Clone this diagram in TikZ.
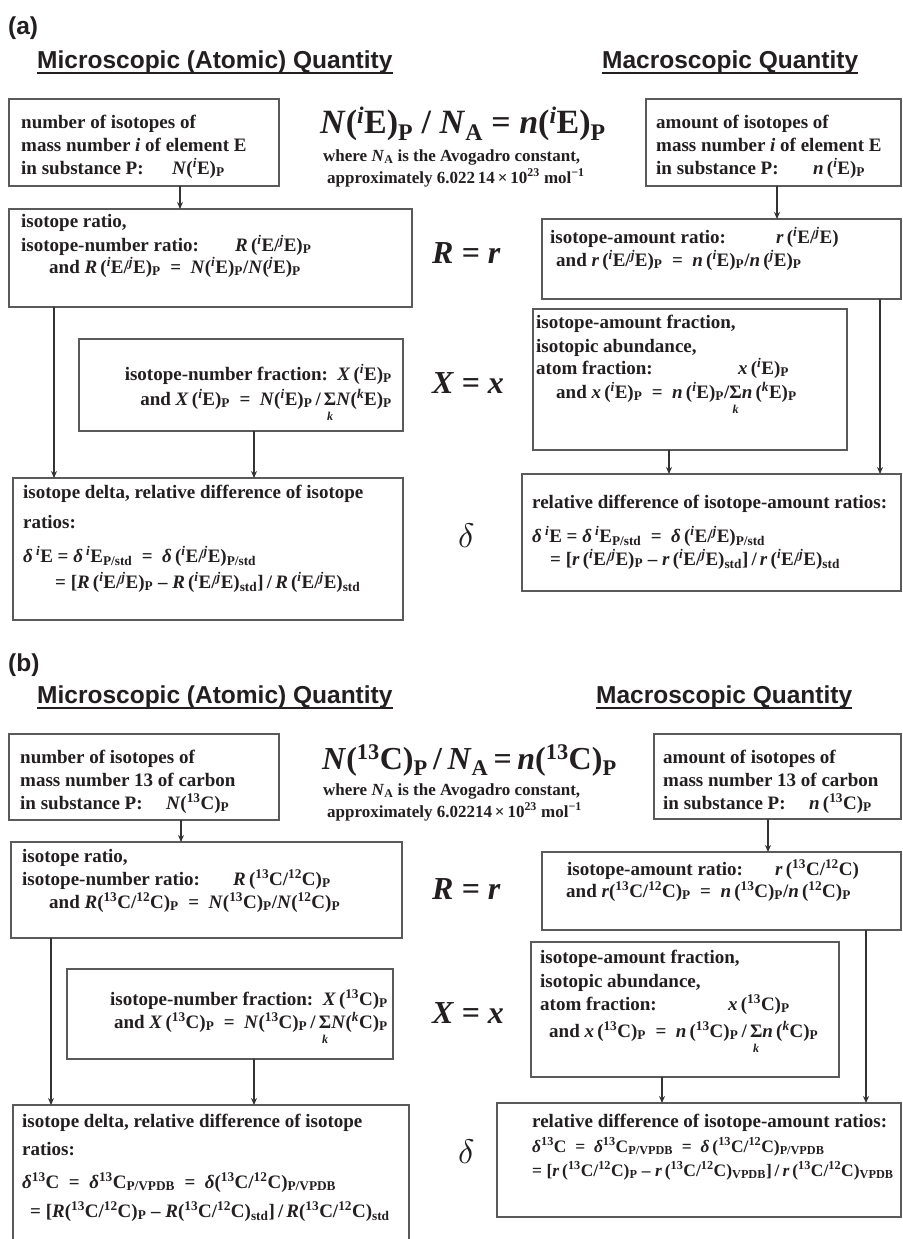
\documentclass[tikz,border=0pt]{standalone}
\usepackage{graphicx}
\usepackage{fontspec}
\setmainfont{Liberation Serif}
\newfontfamily\hsans{Liberation Sans}
\usetikzlibrary{arrows.meta}
\definecolor{txt}{HTML}{231F20}
\definecolor{boxc}{HTML}{5A5A5A}
\definecolor{linec}{HTML}{333333}
\newcommand\bi[1]{\textit{#1}}
\newcommand\us[1]{\textsuperscript{#1}}
\newcommand\ds[1]{\textsubscript{#1}}
\newcommand\Ei{(\us{\bi{i}}E)}
\newcommand\Ej{(\us{\bi{j}}E)}
\newcommand\Ek{(\us{\bi{k}}E)}
\newcommand\Eij{(\us{\bi{i}}E/\us{\bi{j}}E)}
\newcommand\Ct{(\us{13}C)}
\newcommand\Ctw{(\us{12}C)}
\newcommand\Ck{(\us{\bi{k}}C)}
\newcommand\Ctt{(\us{13}C/\us{12}C)}
\newcommand\sumk{\raisebox{0pt}[\height][0pt]{\begin{tabular}[t]{@{}c@{}}Σ\\[-8pt]{\fontsize{12}{12}\selectfont\itshape k}\end{tabular}}}
\newcommand\eqs{\enspace=\enspace}
\newcommand\bigdelta{\scalebox{3.4}{$\delta$}}
\newcommand\tsp{\hspace{0.17em}}
\begin{document}
\begin{tikzpicture}[x=1pt,y=-1pt,
 bx/.style={draw=boxc, line width=1.3pt, inner sep=0pt, outer sep=0pt, anchor=north west},
 tx/.style={anchor=base west, inner sep=0pt, font=\fontsize{19}{23}\selectfont\bfseries, text=txt},
 txs/.style={tx, font=\fontsize{17.5}{21}\selectfont\bfseries},
 txr/.style={tx, anchor=base east},
 arr/.style={draw=linec, line width=1.2pt, -{Stealth[length=7pt,width=6pt]}},
 hd/.style={anchor=base west, inner sep=0pt, font=\hsans\fontsize{24.5}{28}\selectfont\bfseries, text=txt},
 big/.style={anchor=base west, inner sep=0pt, font=\fontsize{34}{40}\selectfont\bfseries, text=txt},
 bigb/.style={big, font=\fontsize{32}{38}\selectfont\bfseries},
 subt/.style={anchor=base west, inner sep=0pt, font=\fontsize{17}{20}\selectfont\bfseries, text=txt},
 mid/.style={anchor=base west, inner sep=0pt, font=\fontsize{32}{36}\selectfont\bfseries\itshape, text=txt},
 dl/.style={anchor=base west, inner sep=0pt, text=txt},
 uline/.style={draw=txt, line width=1.5pt}]
\useasboundingbox (0,0) rectangle (902,1239);
\fill[white] (0,0) rectangle (902,1239);
\clip (0,0) rectangle (902,1239);

% ================= (a) =================
\node[hd] (la) at (8,35) {(a)};
\node[hd] (hA) at (37,68) {Microscopic (Atomic) Quantity};
\draw[uline] ([yshift=-5pt]hA.base west) -- ([yshift=-5pt]hA.base east);
\node[hd] (hB) at (602,68) {Macroscopic Quantity};
\draw[uline] ([yshift=-5pt]hB.base west) -- ([yshift=-5pt]hB.base east);

\node[big] (fa) at (320,133) {\bi{N}\Ei\ds{P} / \bi{N}\ds{A} = \bi{n}\Ei\ds{P}};
\node[subt] (wa) at (323,161) {where \bi{N}\ds{A} is the Avogadro constant,};
\node[subt] (pa) at (327,183) {approximately 6.022\,14\,×\,10\us{23} mol\us{−1}};

\node[mid] (Ra) at (432,263) {R = r};
\node[mid] (Xa) at (432,393) {X = x};
\node[dl] (da) at (458,547) {\bigdelta};

% boxes
\node[bx, minimum width=270pt, minimum height=87pt] (A1) at (9,99) {};
\node[bx, minimum width=403pt, minimum height=98pt] (A2) at (9,209) {};
\node[bx, minimum width=324pt, minimum height=92pt] (A3) at (79,339) {};
\node[bx, minimum width=390pt, minimum height=142pt] (A4) at (13,478) {};
\node[bx, minimum width=255pt, minimum height=87pt] (B1) at (646,99) {};
\node[bx, minimum width=359pt, minimum height=80pt] (B2) at (542,219) {};
\node[bx, minimum width=314pt, minimum height=141pt] (B3) at (533,309) {};
\node[bx, minimum width=379pt, minimum height=117pt] (B4) at (522,474) {};

% A1 text
\node[tx] (a1a) at (21,128) {number of isotopes of};
\node[tx] (a1b) at (21,151) {mass number \bi{i} of element E};
\node[tx] (a1c) at (21,174) {in substance P:};
\node[tx] (a1d) at (172,174) {\bi{N}\Ei\ds{P}};
% A2 text
\node[tx] (a2a) at (21,227) {isotope ratio,};
\node[tx] (a2b) at (21,251) {isotope-number ratio:};
\node[tx] (a2c) at (235,251) {\bi{R}\,\Eij\ds{P}};
\node[tx] (a2d) at (49,273) {and \bi{R}\,\Eij\ds{P}\eqs\bi{N}\Ei\ds{P}/\bi{N}\Ej\ds{P}};
% A3 text
\node[txr] (a3a) at (392,380) {isotope-number fraction:\enspace\bi{X}\,\Ei\ds{P}};
\node[txr] (a3b) at (392,405) {and \bi{X}\,\Ei\ds{P}\eqs\bi{N}\Ei\ds{P}\,/\,\sumk\bi{N}\Ek\ds{P}};
% A4 text
\node[tx] (a4a) at (23,498) {isotope delta, relative difference of isotope};
\node[tx] (a4b) at (23,528) {ratios:};
\node[tx] (a4c) at (23,562) {\bi{δ}\,\us{\bi{i}}E = \bi{δ}\,\us{\bi{i}}E\ds{P/std}\eqs\bi{δ}\,\Eij\ds{P/std}};
\node[tx] (a4d) at (55,588) {= [\bi{R}\,\Eij\ds{P} – \bi{R}\,\Eij\ds{std}]\,/\,\bi{R}\,\Eij\ds{std}};
% B1 text
\node[tx] (b1a) at (656,128) {amount of isotopes of};
\node[tx] (b1b) at (656,151) {mass number \bi{i} of element E};
\node[tx] (b1c) at (656,174) {in substance P:};
\node[tx] (b1d) at (813,174) {\bi{n}\,\Ei\ds{P}};
% B2 text
\node[tx] (b2a) at (550,243) {isotope-amount ratio:};
\node[tx] (b2b) at (776,243) {\bi{r}\,\Eij};
\node[tx] (b2c) at (556,266) {and \bi{r}\,\Eij\ds{P}\eqs\bi{n}\,\Ei\ds{P}/\bi{n}\,\Ej\ds{P}};
% B3 text
\node[tx] (b3a) at (536,328) {isotope-amount fraction,};
\node[tx] (b3b) at (536,352) {isotopic abundance,};
\node[tx] (b3c) at (536,374) {atom fraction:};
\node[tx] (b3d) at (738,374) {\bi{x}\,\Ei\ds{P}};
\node[tx] (b3e) at (556,398) {and \bi{x}\,\Ei\ds{P}\eqs\bi{n}\,\Ei\ds{P}/\sumk\bi{n}\,\Ek\ds{P}};
% B4 text
\node[tx] (b4a) at (532,508) {relative difference of isotope-amount ratios:};
\node[tx] (b4b) at (532,542) {\bi{δ}\,\us{\bi{i}}E = \bi{δ}\,\us{\bi{i}}E\ds{P/std}\eqs\bi{δ}\,\Eij\ds{P/std}};
\node[tx] (b4c) at (550,565) {= [\bi{r}\,\Eij\ds{P} – \bi{r}\,\Eij\ds{std}]\,/\,\bi{r}\,\Eij\ds{std}};

% connectors (a)
\coordinate (xa1) at (180,0);
\coordinate (xa2) at (54,0);
\coordinate (xa3) at (254,0);
\coordinate (xb1) at (777,0);
\coordinate (xb2) at (880,0);
\coordinate (xb3) at (669,0);
\draw[arr] (A1.south -| xa1) -- (A2.north -| xa1);
\draw[arr] (A2.south -| xa2) -- (A4.north -| xa2);
\draw[arr] (A3.south -| xa3) -- (A4.north -| xa3);
\draw[arr] (B1.south -| xb1) -- (B2.north -| xb1);
\draw[arr] (B2.south -| xb2) -- (B4.north -| xb2);
\draw[arr] (B3.south -| xb3) -- (B4.north -| xb3);

% ================= (b) =================
\node[hd] (lb) at (8,671) {(b)};
\node[hd] (hAb) at (37,703) {Microscopic (Atomic) Quantity};
\draw[uline] ([yshift=-5pt]hAb.base west) -- ([yshift=-5pt]hAb.base east);
\node[hd] (hBb) at (596,703) {Macroscopic Quantity};
\draw[uline] ([yshift=-5pt]hBb.base west) -- ([yshift=-5pt]hBb.base east);

\node[bigb] (fb) at (322,769) {\bi{N}\Ct\ds{P}\tsp/\tsp\bi{N}\ds{A}\tsp=\tsp\bi{n}\Ct\ds{P}};
\node[subt] (wb) at (323,795) {where \bi{N}\ds{A} is the Avogadro constant,};
\node[subt] (pb) at (327,817) {approximately 6.02214\,×\,10\us{23} mol\us{−1}};

\node[mid] (Rb) at (432,899) {R = r};
\node[mid] (Xb) at (432,1023) {X = x};
\node[dl] (db) at (458,1163) {\bigdelta};

\node[bx, minimum width=270pt, minimum height=86pt] (A1b) at (9,734) {};
\node[bx, minimum width=391pt, minimum height=96pt] (A2b) at (11,842) {};
\node[bx, minimum width=326pt, minimum height=90pt] (A3b) at (67,969) {};
\node[bx, minimum width=396pt, minimum height=150pt] (A4b) at (13,1105) {};
\node[bx, minimum width=247pt, minimum height=85pt] (B1b) at (654,734) {};
\node[bx, minimum width=359pt, minimum height=78pt] (B2b) at (542,852) {};
\node[bx, minimum width=308pt, minimum height=135pt] (B3b) at (531,942) {};
\node[bx, minimum width=404pt, minimum height=114pt] (B4b) at (497,1103) {};

% A1b
\node[tx] (c1a) at (20,763) {number of isotopes of};
\node[tx] (c1b) at (20,786) {mass number 13 of carbon};
\node[tx] (c1c) at (20,809) {in substance P:};
\node[tx] (c1d) at (166,809) {\bi{N}\Ct\ds{P}};
% A2b
\node[tx] (c2a) at (22,862) {isotope ratio,};
\node[tx] (c2b) at (22,885) {isotope-number ratio:};
\node[tx] (c2c) at (233,885) {\bi{R}\,\Ctt\ds{P}};
\node[tx] (c2d) at (49,908) {and \bi{R}\Ctt\ds{P}\eqs\bi{N}\Ct\ds{P}/\bi{N}\Ctw\ds{P}};
% A3b
\node[txr] (c3a) at (388,1005) {isotope-number fraction:\enspace\bi{X}\,\Ct\ds{P}};
\node[txr] (c3b) at (388,1028) {and \bi{X}\,\Ct\ds{P}\eqs\bi{N}\Ct\ds{P}\,/\,\sumk\bi{N}\Ck\ds{P}};
% A4b
\node[tx] (c4a) at (22,1127) {isotope delta, relative difference of isotope};
\node[tx] (c4b) at (22,1155) {ratios:};
\node[tx] (c4c) at (22,1188) {\bi{δ}\us{13}C\eqs\bi{δ}\us{13}C\ds{P/VPDB}\eqs\bi{δ}\Ctt\ds{P/VPDB}};
\node[tx] (c4d) at (30,1217) {= [\bi{R}\Ctt\ds{P} – \bi{R}\Ctt\ds{std}]\,/\,\bi{R}\Ctt\ds{std}};
% B1b
\node[tx] (d1a) at (663,763) {amount of isotopes of};
\node[tx] (d1b) at (663,786) {mass number 13 of carbon};
\node[tx] (d1c) at (663,809) {in substance P:};
\node[tx] (d1d) at (809,809) {\bi{n}\,\Ct\ds{P}};
% B2b
\node[tx] (d2a) at (567,875) {isotope-amount ratio:};
\node[tx] (d2b) at (775,875) {\bi{r}\,\Ctt};
\node[tx] (d2c) at (566,897) {and \bi{r}\Ctt\ds{P}\eqs\bi{n}\,\Ct\ds{P}/\bi{n}\,\Ctw\ds{P}};
% B3b
\node[tx] (d3a) at (540,963) {isotope-amount fraction,};
\node[tx] (d3b) at (540,987) {isotopic abundance,};
\node[tx] (d3c) at (540,1010) {atom fraction:};
\node[tx] (d3d) at (728,1010) {\bi{x}\,\Ct\ds{P}};
\node[tx] (d3e) at (549,1037) {and \bi{x}\,\Ct\ds{P}\eqs\bi{n}\,\Ct\ds{P}\,/\,\sumk\bi{n}\,\Ck\ds{P}};
% B4b
\node[tx] (d4a) at (532,1127) {relative difference of isotope-amount ratios:};
\node[txs] (d4b) at (532,1152) {\bi{δ}\us{13}C\eqs\bi{δ}\us{13}C\ds{P/VPDB}\eqs\bi{δ}\,\Ctt\ds{P/VPDB}};
\node[txs] (d4c) at (532,1176) {= [\bi{r}\,\Ctt\ds{P} – \bi{r}\,\Ctt\ds{VPDB}]\,/\,\bi{r}\,\Ctt\ds{VPDB}};

% connectors (b)
\coordinate (ya1) at (181,0);
\coordinate (ya2) at (51,0);
\coordinate (ya3) at (254,0);
\coordinate (yb1) at (768,0);
\coordinate (yb2) at (866,0);
\coordinate (yb3) at (662,0);
\draw[arr] (A1b.south -| ya1) -- (A2b.north -| ya1);
\draw[arr] (A2b.south -| ya2) -- (A4b.north -| ya2);
\draw[arr] (A3b.south -| ya3) -- (A4b.north -| ya3);
\draw[arr] (B1b.south -| yb1) -- (B2b.north -| yb1);
\draw[arr] (B2b.south -| yb2) -- (B4b.north -| yb2);
\draw[arr] (B3b.south -| yb3) -- (B4b.north -| yb3);
\end{tikzpicture}
\end{document}
